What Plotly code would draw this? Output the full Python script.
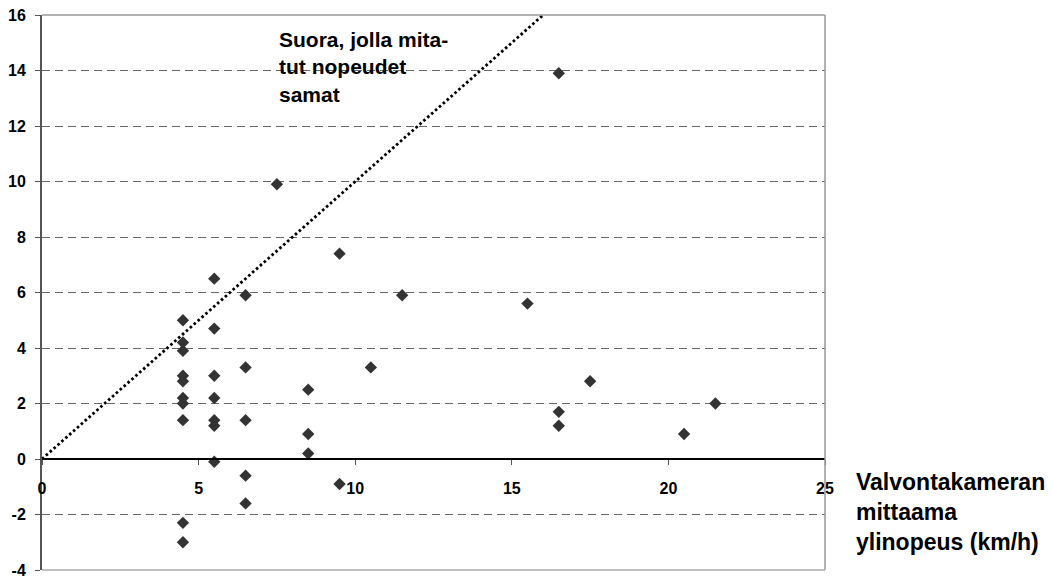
import plotly.graph_objects as go

# Camera-measured speeding (km/h) vs. difference values
camera_x = [4.5, 4.5, 4.5, 4.5, 4.5, 4.5, 4.5, 4.5, 4.5, 4.5,
            5.5, 5.5, 5.5, 5.5, 5.5, 5.5, 5.5,
            6.5, 6.5, 6.5, 6.5, 6.5,
            7.5,
            8.5, 8.5, 8.5,
            9.5, 9.5,
            10.5, 11.5, 15.5,
            16.5, 16.5, 16.5,
            17.5, 20.5, 21.5]
measured_y = [5.0, 4.2, 3.9, 3.0, 2.8, 2.2, 2.0, 1.4, -2.3, -3.0,
              6.5, 4.7, 3.0, 2.2, 1.4, 1.2, -0.1,
              5.9, 3.3, 1.4, -0.6, -1.6,
              9.9,
              2.5, 0.9, 0.2,
              7.4, -0.9,
              3.3, 5.9, 5.6,
              13.9, 1.7, 1.2,
              2.8, 0.9, 2.0]

# Line where both measured speeds are equal (y = x)
equal_x = [0, 16]
equal_y = [0, 16]

x_ticks = [0, 5, 10, 15, 20, 25]
y_ticks = [-4, -2, 0, 2, 4, 6, 8, 10, 12, 14, 16]

annotation_text = "Suora, jolla mita-<br>tut nopeudet<br>samat"
x_title_text = "Valvontakameran<br>mittaama<br>ylinopeus (km/h)"

FONT = "Liberation Sans, Arial, sans-serif"

fig = go.Figure()
fig.add_trace(go.Scatter(
    x=equal_x, y=equal_y, mode="lines",
    line=dict(color="black", width=2.8, dash="2.6px,2.6px"),
    hoverinfo="skip", showlegend=False))
fig.add_trace(go.Scatter(
    x=camera_x, y=measured_y, mode="markers",
    marker=dict(symbol="diamond", size=9.5, color="#333333", line=dict(width=0)),
    showlegend=False))

fig.update_layout(
    width=1053, height=579,
    margin=dict(l=42, r=228, t=15, b=9),
    paper_bgcolor="white", plot_bgcolor="white",
    font=dict(family=FONT, color="black"),
    xaxis=dict(
        range=[0, 25], tickvals=x_ticks,
        ticktext=["<b>%d</b>" % v for v in x_ticks],
        anchor="free", position=0.2, automargin=False,
        showline=True, linecolor="black", linewidth=1.5,
        ticks="outside", ticklen=5, tickcolor="#555", tickwidth=1,
        showgrid=False, zeroline=False,
        tickfont=dict(size=16, family=FONT, color="black"),
        ticklabelstandoff=10,
    ),
    yaxis=dict(
        range=[-4, 16], tickvals=y_ticks,
        ticktext=["<b>%d</b>" % v for v in y_ticks],
        automargin=False,
        showline=True, linecolor="#555555", linewidth=2,
        ticks="outside", ticklen=5, tickcolor="#555", tickwidth=1,
        showgrid=True, gridcolor="#666666", gridwidth=1, griddash="8px,5px",
        zeroline=False,
        tickfont=dict(size=16, family=FONT, color="black"),
        ticklabelstandoff=6,
    ),
    shapes=[
        dict(type="line", xref="paper", yref="paper", x0=0, x1=1, y0=1, y1=1,
             line=dict(color="#999999", width=1.5)),
        dict(type="line", xref="paper", yref="paper", x0=1, x1=1, y0=0, y1=1,
             line=dict(color="#999999", width=1.5)),
        dict(type="line", xref="paper", yref="paper", x0=0, x1=1, y0=0, y1=0,
             line=dict(color="#aaaaaa", width=1.5)),
    ],
    annotations=[
        dict(text=annotation_text, xref="x", yref="y", x=7.5, y=15.6,
             xanchor="left", yanchor="top", align="left", showarrow=False,
             font=dict(size=21, family=FONT, weight="bold", color="black")),
        dict(text=x_title_text, xref="x", yref="y", x=25, y=0,
             xanchor="left", yanchor="top", align="left", showarrow=False,
             xshift=29, yshift=-8,
             font=dict(size=23, family=FONT, weight="bold", color="black")),
    ],
)

fig.write_html("out.html")
